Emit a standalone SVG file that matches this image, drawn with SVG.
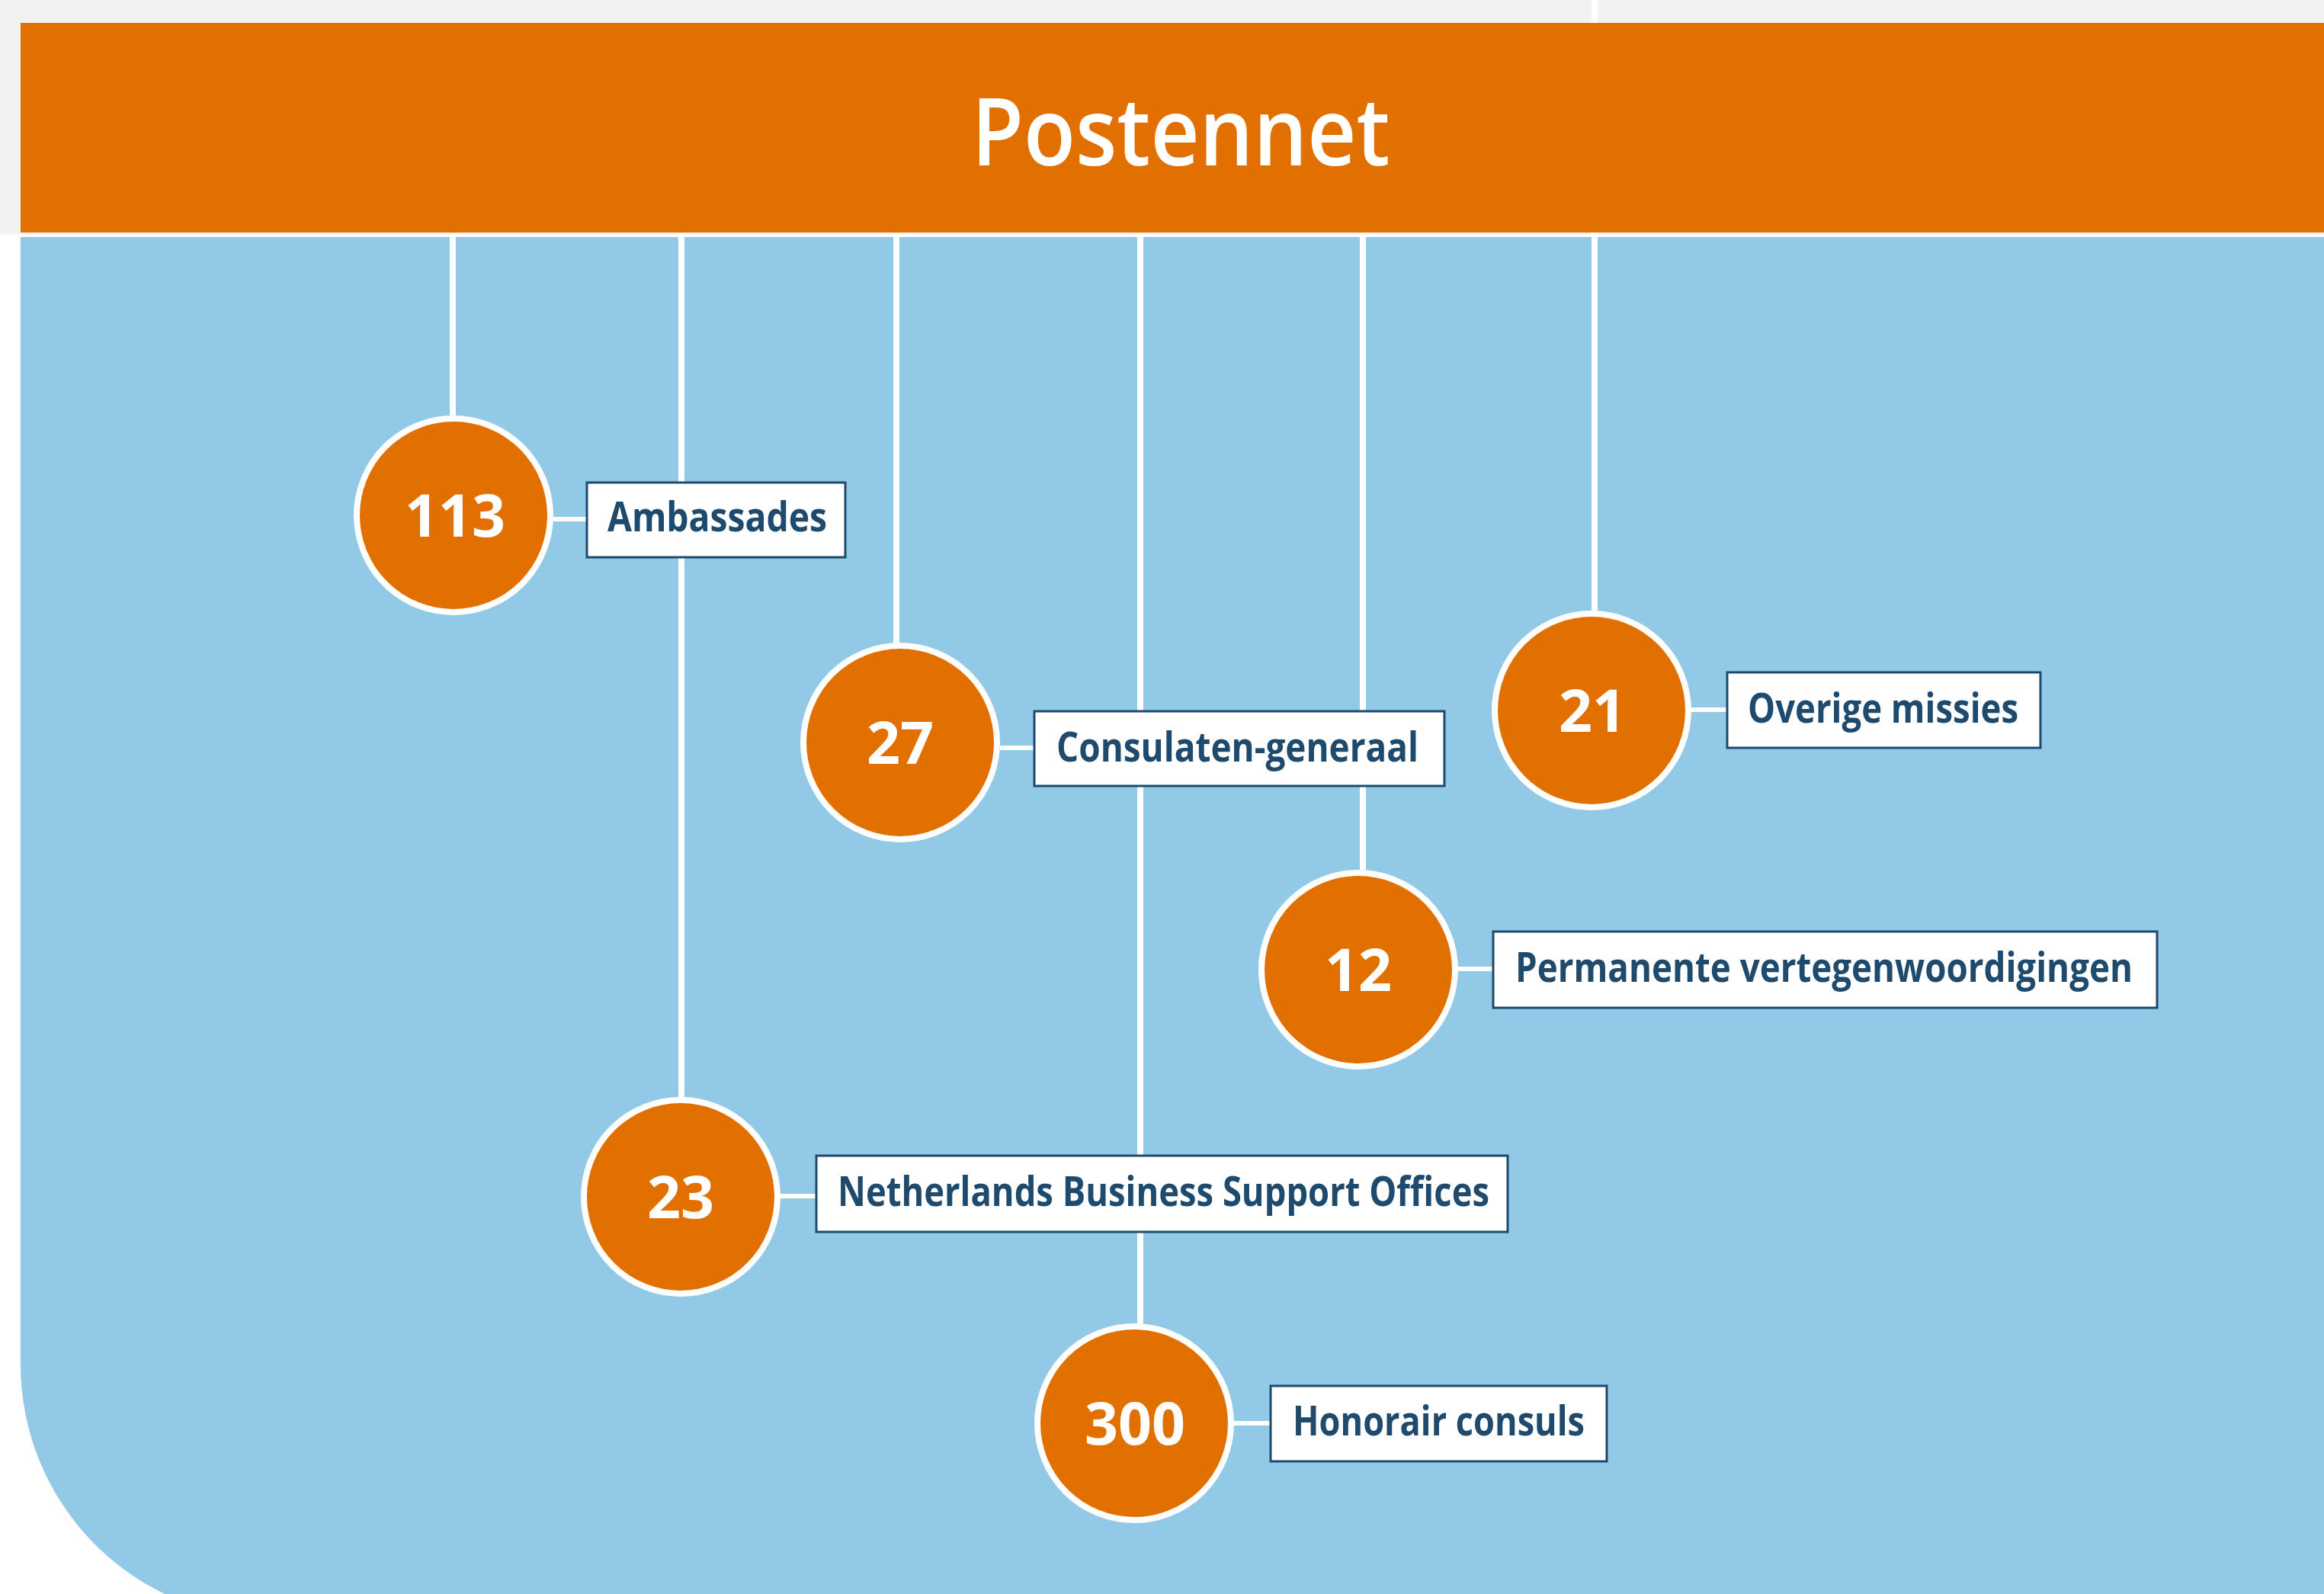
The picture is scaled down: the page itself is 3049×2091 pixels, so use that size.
<svg xmlns="http://www.w3.org/2000/svg" width="3049" height="2091" viewBox="0 0 3049 2091">
  <style>
    .conn { stroke: #ffffff; stroke-width: 8; fill: none; }
    .hconn { stroke: #ffffff; stroke-width: 6; fill: none; }
    .circ { fill: #e17000; stroke: #ffffff; stroke-width: 8; }
    .num { font-family: "Open Sans", "Liberation Sans", sans-serif; font-weight: 700; font-size: 77px; fill: #ffffff; text-anchor: middle; }
    .box { fill: #ffffff; stroke: #1d4a6d; stroke-width: 3; }
    .lbl { font-family: "Open Sans", "Liberation Sans", sans-serif; font-weight: 700; font-size: 53px; fill: #1d4a6d; }
    .title { font-family: "Open Sans", "Liberation Sans", sans-serif; font-weight: 600; font-size: 123px; fill: #ffffff; text-anchor: middle; }
  </style>
  <rect x="0" y="0" width="3049" height="2091" fill="#ffffff"/>
  <rect x="0" y="0" width="3049" height="307" fill="#f2f2f2"/>
  <path d="M27,311 H3049 V2124 H361 A334,334 0 0 1 27,1790 Z" fill="#91c9e6"/>

  <g id="connectors">
    <line class="conn" x1="594" y1="311" x2="594" y2="545"/>
    <line class="conn" x1="894" y1="311" x2="894" y2="1439"/>
    <line class="conn" x1="1176" y1="311" x2="1176" y2="843"/>
    <line class="conn" x1="1496" y1="311" x2="1496" y2="1736"/>
    <line class="conn" x1="1788" y1="311" x2="1788" y2="1141"/>
    <line class="conn" x1="2092" y1="0" x2="2092" y2="801"/>
    <line class="hconn" x1="726" y1="681" x2="770" y2="681"/>
    <line class="hconn" x1="1312" y1="981" x2="1357" y2="981"/>
    <line class="hconn" x1="2219" y1="931" x2="2266" y2="931"/>
    <line class="hconn" x1="1913" y1="1271" x2="1959" y2="1271"/>
    <line class="hconn" x1="1024" y1="1569" x2="1071" y2="1569"/>
    <line class="hconn" x1="1619" y1="1867" x2="1667" y2="1867"/>
  </g>

  <g id="postennet">
    <rect x="27" y="30" width="3022" height="275" fill="#e17000"/>
    <text class="title" x="1549" y="217" textLength="549" lengthAdjust="spacingAndGlyphs">Postennet</text>
  </g>

  <g id="ambassades">
    <circle class="circ" cx="595" cy="676" r="127"/>
    <text class="num" x="597" y="704">113</text>
    <rect class="box" x="770" y="633" width="339" height="98"/>
    <text class="lbl" x="797" y="697" textLength="288" lengthAdjust="spacingAndGlyphs">Ambassades</text>
  </g>

  <g id="consulaten">
    <circle class="circ" cx="1181" cy="974" r="127"/>
    <text class="num" x="1181" y="1002">27</text>
    <rect class="box" x="1357" y="933" width="538" height="98"/>
    <text class="lbl" x="1386" y="999" textLength="475" lengthAdjust="spacingAndGlyphs">Consulaten-generaal</text>
  </g>

  <g id="overige">
    <circle class="circ" cx="2088" cy="932" r="127"/>
    <text class="num" x="2089" y="960">21</text>
    <rect class="box" x="2266" y="882" width="411" height="99"/>
    <text class="lbl" x="2293" y="948" textLength="355" lengthAdjust="spacingAndGlyphs">Overige missies</text>
  </g>

  <g id="permanente">
    <circle class="circ" cx="1782" cy="1272" r="127"/>
    <text class="num" x="1782" y="1300">12</text>
    <rect class="box" x="1959" y="1222" width="871" height="100"/>
    <text class="lbl" x="1988" y="1288" textLength="810" lengthAdjust="spacingAndGlyphs">Permanente vertegenwoordigingen</text>
  </g>

  <g id="nbso">
    <circle class="circ" cx="893" cy="1570" r="127"/>
    <text class="num" x="893" y="1598">23</text>
    <rect class="box" x="1071" y="1516" width="907" height="100"/>
    <text class="lbl" x="1099" y="1582" textLength="855" lengthAdjust="spacingAndGlyphs">Netherlands Business Support Offices</text>
  </g>

  <g id="honorair">
    <circle class="circ" cx="1488" cy="1867" r="127"/>
    <text class="num" x="1489" y="1895">300</text>
    <rect class="box" x="1667" y="1818" width="441" height="99"/>
    <text class="lbl" x="1696" y="1883" textLength="383" lengthAdjust="spacingAndGlyphs">Honorair consuls</text>
  </g>
</svg>
